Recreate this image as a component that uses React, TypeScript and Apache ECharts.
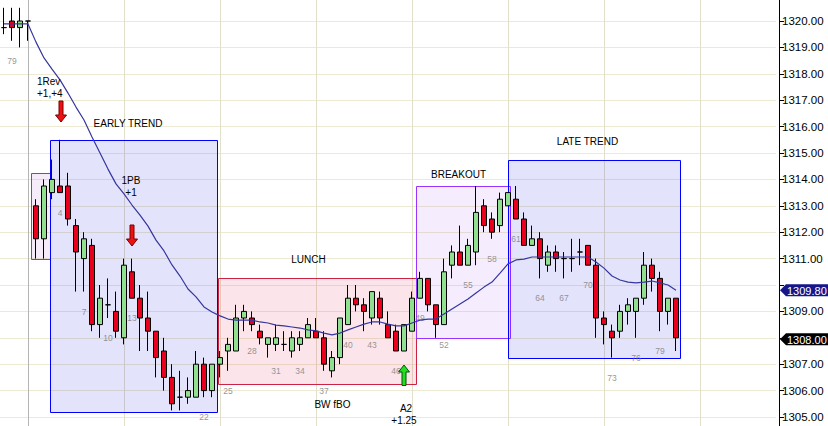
import React, { useEffect, useRef } from "react";
import * as echarts from "echarts";

// ---- data ----
const prevDayBars = ["78", "79", "80", "81"];
const todayBars = Array.from({ length: 81 }, (_, i) => String(i + 1));
const barNames = [...prevDayBars, ...todayBars];

const opens = [
  1319.75, 1320, 1319.75, 1320,
  1313, 1311.75, 1313.5, 1313.75, 1313.75, 1312.25, 1311, 1311.5, 1308.5, 1309.25,
  1309, 1308, 1310.5, 1309.5, 1308.75, 1308.25, 1307.5, 1306.5, 1305.75, 1305.75,
  1305.75, 1307, 1306, 1307, 1307.5, 1307.5, 1308.75, 1308.75, 1308.25, 1307.75,
  1307.75, 1307.75, 1307.5, 1307.75, 1308, 1308.25, 1308, 1306.75, 1307.25, 1308.5,
  1309.5, 1309.25, 1308.75, 1309.5, 1308.5, 1308.25, 1307.5, 1308.25, 1309.5, 1310.25,
  1309.25, 1308.5, 1310.75, 1311.25, 1310.75, 1311.25, 1313, 1312.5, 1312.25, 1313,
  1313.25, 1312.5, 1311.5, 1311.75, 1310.75, 1311.25, 1311, 1311, 1311.25, 1311.5,
  1310.75, 1308.75, 1308.25, 1308.25, 1309, 1309, 1309.5, 1310.75, 1310.25, 1309, 1309.5,
];
const closes = [
  1319.75, 1319.75, 1320, 1320,
  1311.75, 1313.75, 1314, 1313.5, 1312.5, 1311.25, 1311.75, 1308.5, 1309.5, 1309.25,
  1308.25, 1310.75, 1309.5, 1308.75, 1308.25, 1307.25, 1306.5, 1305.5, 1305.75, 1306,
  1307, 1306, 1307, 1307.25, 1307.75, 1308.75, 1309, 1308.5, 1308, 1308,
  1308, 1307.75, 1308, 1308, 1308.5, 1308, 1307, 1307.25, 1308.75, 1309.5,
  1309.25, 1309, 1309.75, 1308.75, 1308, 1307.5, 1308.5, 1309.5, 1310.25, 1309.25,
  1308.5, 1310.5, 1311.25, 1310.75, 1311.5, 1312.75, 1312.25, 1312, 1313.25, 1313.5,
  1312.5, 1311.5, 1311.75, 1311, 1311.25, 1311, 1311, 1311, 1311.25, 1310.75,
  1308.75, 1308.5, 1308, 1309, 1309.25, 1309.5, 1310.75, 1310.25, 1309, 1309.5, 1308,
];
const lows = [
  1319.5, 1319.25, 1319, 1319.25,
  1311, 1311, 1313.25, 1313.5, 1312.25, 1309.75, 1309.75, 1308.25, 1308, 1308.75,
  1308, 1307.75, 1309.5, 1307.5, 1307.5, 1306.5, 1306, 1305.25, 1305.25, 1305.5,
  1305.75, 1305.75, 1305.75, 1306.5, 1306.75, 1307.5, 1308.25, 1308.25, 1307.75, 1307.25,
  1307.5, 1307.5, 1307.25, 1307.5, 1308, 1308, 1306.75, 1306.5, 1307, 1308.5,
  1309, 1308.25, 1308.5, 1308.5, 1308, 1307.5, 1307.5, 1308.25, 1309.5, 1309,
  1308, 1308.5, 1310.25, 1310.75, 1310.75, 1310.75, 1312, 1311.75, 1312, 1313,
  1312.5, 1311.5, 1311.5, 1310.25, 1310.5, 1310.5, 1310.25, 1310.5, 1310.75, 1310.75,
  1308, 1307.75, 1307.25, 1308, 1308.5, 1308, 1309.25, 1309.75, 1308.25, 1308.5, 1307.5,
];
const highs = [
  1320.5, 1320.5, 1320.5, 1320,
  1313.25, 1314, 1314.75, 1315.5, 1314.25, 1312.5, 1312, 1311.75, 1310, 1310.25,
  1309.75, 1311, 1311, 1310, 1309.75, 1308.25, 1308, 1307, 1306.75, 1306.5,
  1307.5, 1307.25, 1307, 1307.5, 1308, 1309.25, 1309.25, 1309, 1308.5, 1308,
  1308.5, 1308.25, 1308.25, 1308.25, 1308.75, 1308.75, 1308.25, 1307.5, 1308.75, 1310,
  1310, 1309.5, 1309.75, 1309.75, 1309, 1308.5, 1308.5, 1309.75, 1310.5, 1310.25,
  1309.25, 1311, 1311.5, 1312.25, 1311.75, 1313.75, 1313.25, 1312.75, 1313.5, 1313.5,
  1313.75, 1312.75, 1312.25, 1312, 1311.5, 1311.5, 1311.25, 1311.75, 1311.75, 1311.5,
  1311, 1309, 1308.5, 1309.25, 1309.5, 1309.5, 1311.25, 1311, 1310.5, 1309.5, 1309.5,
];
const emaValues = [
  1319.89, 1319.89, 1319.89, 1319.89,
  1319.2, 1318.6, 1318.18, 1317.77, 1317.27, 1316.74, 1316.25, 1315.61, 1315.0, 1314.39,
  1313.83, 1313.45, 1313.03, 1312.65, 1312.23, 1311.7, 1311.29, 1310.76, 1310.34, 1309.85,
  1309.55, 1309.17, 1308.98, 1308.83, 1308.71, 1308.67, 1308.67, 1308.67, 1308.6, 1308.56,
  1308.48, 1308.45, 1308.41, 1308.37, 1308.3, 1308.26, 1308.18, 1308.11, 1308.18, 1308.3,
  1308.41, 1308.52, 1308.6, 1308.6, 1308.52, 1308.45, 1308.45, 1308.56, 1308.67, 1308.71,
  1308.71, 1308.9, 1309.09, 1309.28, 1309.47, 1309.7, 1309.92, 1310.11, 1310.45, 1310.8,
  1310.95, 1310.98, 1311.06, 1311.06, 1311.06, 1311.06, 1311.06, 1311.06, 1311.06, 1311.06,
  1310.87, 1310.64, 1310.34, 1310.19, 1310.11, 1310.08, 1310.11, 1310.15, 1310.08, 1310.0,
  1309.8,
];
// bars (index into the arrays above) that carry a visible bar-number label
const numberedBars = [1, 7, 10, 13, 16, 25, 28, 31, 34, 37, 40, 43, 46, 49, 52, 55, 58, 61, 64, 67, 70, 73, 76, 79, 82];
// price axis ticks
const priceMin = 1305;
const priceMax = 1320;
const priceStep = 1;

const FONT = "'Liberation Sans', Arial, sans-serif";

export default function App() {
  const ref = useRef<HTMLDivElement>(null);

  useEffect(() => {
    const el = ref.current!;
    const chart = echarts.init(el, null, { renderer: "svg" });
    const nSlots = barNames.length + 12;
    const slots = Array.from({ length: nSlots }, (_, i) => "s" + i);
    const candles = opens.map((o, i) => [o, closes[i], lows[i], highs[i]]);
    const lastEma = emaValues[emaValues.length - 1];
    const lastClose = closes[closes.length - 1];
    const tagged = [lastEma, lastClose];

    chart.setOption({
      animation: false,
      backgroundColor: "#ffffff",
      grid: { left: 0, top: 21, width: 776, height: 396, containLabel: false },
      xAxis: {
        type: "category",
        data: slots,
        boundaryGap: true,
        axisLine: { show: false },
        axisTick: { show: false },
        axisLabel: { show: false },
        splitLine: { show: false },
      },
      yAxis: {
        type: "value",
        position: "right",
        offset: 3,
        min: priceMin,
        max: priceMax,
        interval: priceStep,
        axisLine: { show: true, lineStyle: { color: "#000", width: 1 } },
        axisTick: { show: true, length: 5, lineStyle: { color: "#000" } },
        axisLabel: {
          color: "#000",
          fontFamily: FONT,
          fontSize: 11.5,
          margin: 3,
          // labels hidden under a price tag are left out
          formatter: (v: number) =>
            tagged.some((t) => Math.abs(t - v) < 0.45) ? "" : v.toFixed(2),
        },
        splitLine: { show: true, lineStyle: { color: "#ecead3", width: 1 } },
      },
      series: [
        {
          type: "candlestick",
          data: candles,
          barWidth: 5,
          z: 3,
          itemStyle: {
            color: "#90e090",
            color0: "#e8001c",
            borderColor: "#000",
            borderColor0: "#000",
            borderColorDoji: "#000",
            borderWidth: 1,
          },
          silent: true,
        },
        {
          type: "scatter",
          data: numberedBars.map((k) => [k, lows[k]]),
          symbolSize: 1,
          itemStyle: { color: "rgba(0,0,0,0)" },
          label: {
            show: true,
            position: "inside",
            offset: [0, 20],
            formatter: (p: any) => barNames[p.data[0]],
            color: "#7a7a7a",
            fontSize: 8.5,
            fontFamily: FONT,
          },
          silent: true,
          z: 3,
        },
        {
          type: "line",
          data: emaValues,
          symbol: "none",
          smooth: false,
          lineStyle: { color: "#36369e", width: 1.2 },
          z: 4,
          silent: true,
        },
      ],
    });

    const x0 = chart.convertToPixel({ xAxisIndex: 0 }, 0) as number;
    const x1 = chart.convertToPixel({ xAxisIndex: 0 }, 1) as number;
    const step = x1 - x0;
    const xAt = (k: number) => x0 + k * step;
    const yAt = (p: number) => chart.convertToPixel({ yAxisIndex: 0 }, p) as number;

    const graphics: any[] = [];

    // vertical hour gridlines
    [3, 15, 27, 39, 51, 63, 75, 87].forEach((k, i) => {
      const x = Math.round(xAt(k)) + 0.5;
      graphics.push({
        type: "line",
        z: 0,
        silent: true,
        shape: { x1: x, y1: 0, x2: x, y2: 426 },
        style: { stroke: i === 0 ? "#b4b4b4" : "#e2dfcb", lineWidth: 1 },
      });
    });

    // annotation boxes (bar-position range, price range)
    const boxes: [number, number, number, number, string, string][] = [
      [3.375, 5.75, 1311.0, 1314.25, "rgba(170,60,200,0.10)", "#9933cc"],
      [5.75, 26.6, 1305.2, 1315.5, "rgba(0,0,220,0.11)", "#0000ff"],
      [26.75, 51.44, 1306.25, 1310.25, "rgba(220,20,60,0.11)", "#cc2244"],
      [51.46, 63.29, 1308.0, 1313.75, "rgba(140,60,230,0.09)", "#9933ff"],
      [63.04, 84.56, 1307.25, 1314.75, "rgba(0,0,220,0.11)", "#0000ff"],
    ];
    boxes.forEach(([ka, kb, pa, pb, fill, stroke]) => {
      const xa = Math.round(xAt(ka)) + 0.5;
      const xb = Math.round(xAt(kb)) + 0.5;
      const ya = Math.round(yAt(pb)) + 0.5;
      const yb = Math.round(yAt(pa)) + 0.5;
      graphics.push({
        type: "rect",
        z: 1,
        silent: true,
        shape: { x: xa, y: ya, width: xb - xa, height: yb - ya },
        style: { fill, stroke, lineWidth: 1 },
      });
    });

    // texts
    const texts: [string, number, number, string][] = [
      ["1Rev", 37, 81, "left"],
      ["+1,+4", 37, 93, "left"],
      ["EARLY TREND", 128, 123, "center"],
      ["1PB", 131, 180, "center"],
      ["+1", 131, 192.5, "center"],
      ["LUNCH", 308.5, 259, "center"],
      ["BW fBO", 332.5, 404, "center"],
      ["A2", 406, 408, "center"],
      ["+1.25", 404, 420, "center"],
      ["BREAKOUT", 458.5, 174, "center"],
      ["LATE TREND", 587.5, 141.7, "center"],
    ];
    texts.forEach(([t, x, y, align]) => {
      graphics.push({
        type: "text",
        z: 10,
        silent: true,
        x,
        y,
        style: {
          text: t,
          fill: "#000",
          font: `10px ${FONT}`,
          textAlign: align,
          textVerticalAlign: "middle",
          verticalAlign: "middle",
        },
      });
    });

    // arrows
    const arrows: [number[][], string, string][] = [
      [[[59, 101], [63, 101], [63, 115], [66.5, 115], [61, 122], [55.5, 115], [59, 115]], "#ee1111", "#7a0000"],
      [[[130, 225], [134, 225], [134, 239], [137.5, 239], [132, 246], [126.5, 239], [130, 239]], "#ee1111", "#7a0000"],
      [[[404, 365], [409.5, 372], [406, 372], [406, 385.5], [402, 385.5], [402, 372], [398.5, 372]], "#22dd22", "#005500"],
    ];
    arrows.forEach(([pts, fill, stroke]) => {
      graphics.push({
        type: "polygon",
        z: 10,
        silent: true,
        shape: { points: pts },
        style: { fill, stroke, lineWidth: 1 },
      });
    });

    // full-height price axis line
    graphics.push({
      type: "line",
      z: 9,
      silent: true,
      shape: { x1: 779.5, y1: 0, x2: 779.5, y2: 426 },
      style: { stroke: "#000", lineWidth: 1 },
    });

    // price tags on the axis
    const tags: [number, string][] = [
      [lastEma, "#16168a"],
      [lastClose, "#000000"],
    ];
    tags.forEach(([v, bg], i) => {
      const c = yAt(v) + (i === 1 ? 1.5 : 0);
      graphics.push({
        type: "polygon",
        z: 11,
        silent: true,
        shape: {
          points: [[780, c], [786, c - 6], [828, c - 6], [828, c + 6], [786, c + 6]],
        },
        style: { fill: bg, stroke: bg, lineWidth: 0 },
      });
      graphics.push({
        type: "text",
        z: 12,
        silent: true,
        x: 787,
        y: c + 0.5,
        style: {
          text: v.toFixed(2),
          fill: "#fff",
          font: `11px ${FONT}`,
          textAlign: "left",
          textVerticalAlign: "middle",
          verticalAlign: "middle",
        },
      });
    });

    chart.setOption({ graphic: graphics });

    return () => {
      chart.dispose();
    };
  }, []);

  return (
    <div
      ref={ref}
      style={{ position: "absolute", left: 0, top: 0, width: 828, height: 426, background: "#fff" }}
    />
  );
}
